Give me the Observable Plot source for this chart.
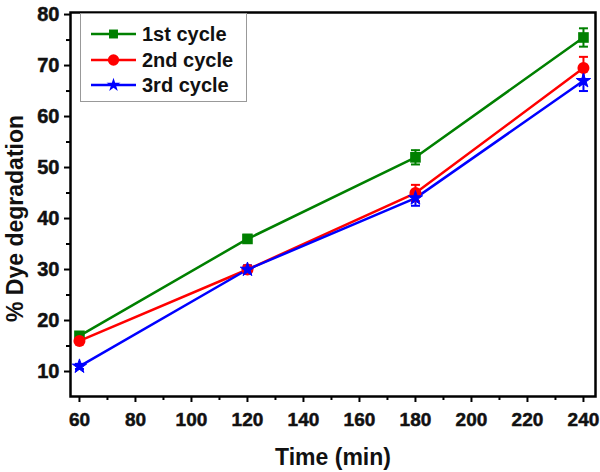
<!DOCTYPE html>
<html>
<head>
<meta charset="utf-8">
<script src="https://cdn.jsdelivr.net/npm/d3@7"></script>
<script src="https://cdn.jsdelivr.net/npm/@observablehq/plot@0.6"></script>
<style>
  html, body { margin: 0; padding: 0; background: #fff; }
  #wrap { position: relative; width: 600px; height: 472px; font-family: "Liberation Sans", Arial, sans-serif; }
  #legend { position: absolute; left: 80px; top: 13px; width: 165px; height: 87px; border: 1px solid #999; background: #fff; box-sizing: content-box; }
  .row { position: absolute; left: 9px; height: 24px; display: flex; align-items: center; }
  .row span { font-weight: bold; font-size: 20px; margin-left: 4px; color: #111; }
</style>
</head>
<body>
<div id="wrap"><div id="legend"></div></div>
<script>
const times = [60, 120, 180, 240];
const seriesNames = ["1st cycle", "2nd cycle", "3rd cycle"];
const colors = ["#008000", "#ff0000", "#0000ff"];
const symbols = ["square", "circle", "star"];
const cycle1 = [17, 36, 52, 75.5];
const cycle1Err = [0.6, 0.8, 1.4, 1.8];
const cycle2 = [16, 30, 45, 69.5];
const cycle2Err = [0.5, 0.8, 1.6, 2.2];
const cycle3 = [11, 30, 44, 67];
const cycle3Err = [0.5, 0.8, 1.5, 2.0];
const xTicks = [60, 80, 100, 120, 140, 160, 180, 200, 220, 240];
const xMinor = [70, 90, 110, 130, 150, 170, 190, 210, 230];
const yTicks = [10, 20, 30, 40, 50, 60, 70, 80];
const yMinor = [15, 25, 35, 45, 55, 65, 75];

const values = [cycle1, cycle2, cycle3];
const errs = [cycle1Err, cycle2Err, cycle3Err];
const data = [];
seriesNames.forEach((s, i) => times.forEach((t, j) => data.push({series: s, t, v: values[i][j], e: errs[i][j]})));

const capSymbol = {
  draw(context, size) {
    const w = 4.5;
    context.moveTo(-w, 0);
    context.lineTo(w, 0);
  }
};

const font = "Liberation Sans, Arial, sans-serif";

const chart = Plot.plot({
  width: 600,
  height: 472,
  marginLeft: 70,
  marginRight: 5,
  marginTop: 12,
  marginBottom: 76,
  style: {fontFamily: font, fontWeight: "bold", background: "transparent"},
  x: {domain: [56.8, 244.3]},
  y: {domain: [5.1, 80.4]},
  color: {domain: seriesNames, range: colors},
  symbol: {domain: seriesNames, range: symbols},
  marks: [
    Plot.axisX({ticks: xTicks, tickSize: 6, tickPadding: 10, strokeWidth: 2, fontSize: 19, label: null, fill: "#111"}),
    Plot.axisX({ticks: xMinor, tickSize: 4, strokeWidth: 2, tickFormat: () => "", label: null}),
    Plot.axisY({ticks: yTicks, tickSize: 6, tickPadding: 5, strokeWidth: 2, fontSize: 20, label: null, fill: "#111"}),
    Plot.axisY({ticks: yMinor, tickSize: 4, strokeWidth: 2, tickFormat: () => "", label: null}),
    Plot.text(["Time (min)"], {frameAnchor: "bottom", dy: 61, lineAnchor: "middle", textAnchor: "middle", fontSize: 23, fontWeight: "bold", fill: "#111"}),
    Plot.text(["% Dye degradation"], {frameAnchor: "left", dx: -55, dy: 14, rotate: -90, lineAnchor: "middle", textAnchor: "middle", fontSize: 23, fontWeight: "bold", fill: "#111"}),
    Plot.line(data, {x: "t", y: "v", z: "series", stroke: "series", strokeWidth: 2.5}),
    Plot.ruleX(data, {x: "t", y1: d => d.v - d.e, y2: d => d.v + d.e, stroke: "series", strokeWidth: 2}),
    Plot.dot(data, {x: "t", y: d => d.v - d.e, stroke: "series", symbol: capSymbol, strokeWidth: 2, r: 4}),
    Plot.dot(data, {x: "t", y: d => d.v + d.e, stroke: "series", symbol: capSymbol, strokeWidth: 2, r: 4}),
    Plot.dot(data.filter(d => d.series !== seriesNames[2]), {x: "t", y: "v", fill: "series", symbol: "series", r: 6, stroke: null}),
    Plot.dot(data.filter(d => d.series === seriesNames[2]), {x: "t", y: "v", fill: "series", symbol: "series", r: 4.5, stroke: "series", strokeWidth: 1}),
    Plot.frame({stroke: "#000", strokeWidth: 2.5})
  ]
});
d3.select(chart).selectAll("text").attr("font-weight", "bold").style("font-weight", "bold");
d3.select(chart).selectAll("g[aria-label='x-axis tick label'] text, g[aria-label='y-axis tick label'] text")
  .style("stroke", "#111").style("stroke-width", "0.5px");
const wrap = document.getElementById("wrap");
wrap.insertBefore(chart, wrap.firstChild);

// legend
const legend = document.getElementById("legend");
const symPaths = {square: d3.symbolSquare, circle: d3.symbolCircle, star: d3.symbolStar};
const symSizes = [80, 100, 60];
const tops = [8, 34, 59];
seriesNames.forEach((s, i) => {
  const row = document.createElement("div");
  row.className = "row";
  row.style.top = tops[i] + "px";
  const path = d3.symbol(symPaths[symbols[i]], symSizes[i])();
  row.innerHTML = `<svg width="48" height="24"><line x1="1" y1="12" x2="46" y2="12" stroke="${colors[i]}" stroke-width="2.5"/><path transform="translate(23.5,12)" d="${path}" fill="${colors[i]}"/></svg><span>${s}</span>`;
  legend.appendChild(row);
});
</script>
</body>
</html>
